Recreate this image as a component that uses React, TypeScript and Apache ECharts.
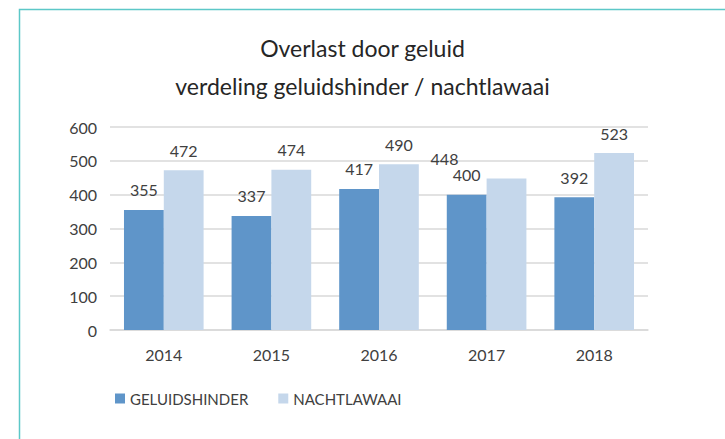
import React, { useEffect, useRef } from "react";
import * as echarts from "echarts";

const categories = ["2014", "2015", "2016", "2017", "2018"];
const geluidshinder = [355, 337, 417, 400, 392];
const nachtlawaai = [472, 474, 490, 448, 523];
const seriesNames = ["GELUIDSHINDER", "NACHTLAWAAI"];
const titleLines = ["Overlast door geluid", "verdeling geluidshinder / nachtlawaai"];

const FONT = "Lato, 'Open Sans', sans-serif";
const TEXT = "#404040";

export default function App() {
  const ref = useRef<HTMLDivElement>(null);
  useEffect(() => {
    document.body.style.margin = "0";
    const chart = echarts.init(ref.current!, null, { renderer: "svg" });
    const labelStyle = {
      show: true,
      position: "top" as const,
      distance: 12,
      color: TEXT,
      fontSize: 16,
      fontFamily: FONT,
    };
    chart.setOption({
      animation: false,
      backgroundColor: "#ffffff",
      textStyle: { fontFamily: FONT },
      title: {
        text: titleLines.join("\n"),
        left: "center",
        top: 24,
        textStyle: {
          fontSize: 23,
          fontWeight: "normal",
          color: "#262626",
          fontFamily: FONT,
          lineHeight: 38,
        },
      },
      graphic: [
        {
          type: "rect",
          shape: { x: 19.5, y: 9.5, width: 800, height: 500 },
          style: { fill: "none", stroke: "#5CC8C8", lineWidth: 1.5 },
          silent: true,
        },
      ],
      legend: {
        left: 110,
        top: 386,
        itemWidth: 10,
        itemHeight: 10,
        itemGap: 30,
        icon: "rect",
        textStyle: { color: TEXT, fontSize: 15, fontFamily: FONT },
        data: seriesNames,
      },
      grid: { left: 110, right: 77, top: 127, bottom: 109 },
      xAxis: {
        type: "category",
        data: categories,
        axisLine: { show: true, lineStyle: { color: "#D9D9D9", width: 1.5 } },
        axisTick: { show: false },
        axisLabel: { color: TEXT, fontSize: 16, margin: 16, fontFamily: FONT },
      },
      yAxis: {
        type: "value",
        min: 0,
        max: 600,
        interval: 100,
        axisLine: { show: false },
        axisTick: { show: false },
        axisLabel: { color: TEXT, fontSize: 16, margin: 13, fontFamily: FONT },
        splitLine: { lineStyle: { color: "#D9D9D9", width: 1.5 } },
      },
      series: [
        {
          name: seriesNames[0],
          type: "bar",
          data: geluidshinder,
          barGap: "0%",
          barCategoryGap: "26%",
          itemStyle: { color: "#5F95C9" },
          label: labelStyle,
        },
        {
          name: seriesNames[1],
          type: "bar",
          data: nachtlawaai.map((v, i) =>
            categories[i] === "2017"
              ? { value: v, label: { offset: [-62, 0] } }
              : v
          ),
          itemStyle: { color: "#C5D7EB" },
          label: labelStyle,
        },
      ],
    });
    return () => chart.dispose();
  }, []);
  return (
    <div
      ref={ref}
      style={{ position: "absolute", left: 0, top: 0, width: 725, height: 439 }}
    />
  );
}
